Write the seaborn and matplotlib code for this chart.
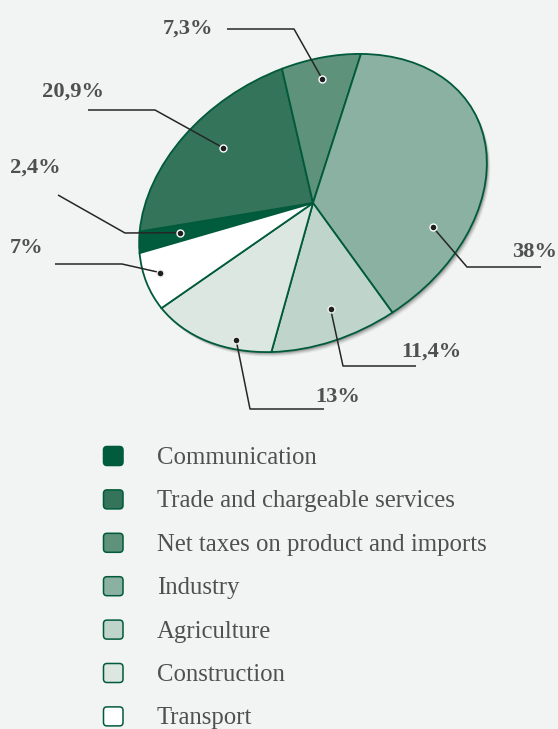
import numpy as np
import matplotlib
matplotlib.use("Agg")
import matplotlib.pyplot as plt
import seaborn as sns
from matplotlib.patches import Circle, FancyBboxPatch
from matplotlib.transforms import Affine2D

sns.set_theme(style="white")
plt.rcParams["font.family"] = ["Liberation Serif", "DejaVu Serif"]

# GDP structure by sector, %
sectors = ["Communication", "Trade and chargeable services", "Net taxes on product and imports",
           "Industry", "Agriculture", "Construction", "Transport"]
shares = [2.4, 20.9, 7.3, 38, 11.4, 13, 7]
pct_labels = ["2,4%", "20,9%", "7,3%", "38%", "11,4%", "13%", "7%"]
colors = ["#005c3c", "#33745a", "#5f927a", "#8ab1a1", "#bfd5cb", "#dde7e2", "#ffffff"]

bg = "#f2f4f3"
edge = "#005a3b"
text_col = "#505050"
W, H = 558, 729

# layout in image pixels (y down)
cx, cy = 313, 203
semi_a, semi_b, tilt = 185, 135, -30
dot_frac = [0.53, 0.546, 0.53, 0.742, 0.479, 0.303, 0.556]
dot_rad = [0.765, 0.741, 0.848, 0.777, 0.775, 0.941, 0.911]
leader_far = [(58, 195), (88, 110), (227, 29), (541, 267), (416, 366), (324, 409), (55, 264)]
leader_elbow = [(125, 233), (155, 110), (294, 29), (467, 267), (343, 366), (250, 409), (122, 264)]
label_pos = [(10, 173), (42, 97), (163, 34), (512, 257), (401, 357), (315, 402), (10, 253)]

fig = plt.figure(figsize=(W / 100, H / 100), dpi=100, facecolor=bg)
ax = fig.add_axes([0, 0, 1, 1])
ax.set_facecolor(bg)

palette = sns.color_palette(colors)
wedges, _ = ax.pie(shares, colors=palette, startangle=-161.3, counterclock=True,
                   wedgeprops=dict(edgecolor=edge, linewidth=1.3))

aff = Affine2D().scale(semi_a, semi_b).rotate_deg(tilt).translate(cx, cy)

# soft shadow on the lower right
for k, a in zip([6, 5, 4, 3, 2], [0.05, 0.08, 0.12, 0.16, 0.22]):
    sh = Affine2D().scale(semi_a, semi_b).rotate_deg(tilt).translate(cx + k * 0.6, cy + k * 0.8)
    c = Circle((0, 0), 1, facecolor="#4a4a4a", edgecolor="none", alpha=a, zorder=1)
    c.set_transform(sh + ax.transData)
    ax.add_patch(c)

for w in wedges:
    w.set_transform(aff + ax.transData)
    w.set_zorder(2)

for i, w in enumerate(wedges):
    t = np.deg2rad(w.theta1 + dot_frac[i] * (w.theta2 - w.theta1))
    dx, dy = aff.transform((dot_rad[i] * np.cos(t), dot_rad[i] * np.sin(t)))
    xs = [leader_far[i][0], leader_elbow[i][0], dx]
    ys = [leader_far[i][1], leader_elbow[i][1], dy]
    ax.plot(xs, ys, color="#262626", lw=1.1, zorder=3, solid_capstyle="butt")
    ring = "white" if i < 4 else "#eeeeee"
    ax.plot(dx, dy, "o", ms=5, mfc="#1e1e1e", mec=ring, mew=1.0, zorder=4)
    ax.text(label_pos[i][0], label_pos[i][1], pct_labels[i], fontsize=16.2, fontweight="bold",
            color=text_col, ha="left", va="baseline")

# legend
row0, step = 456, 43.4
for i, name in enumerate(sectors):
    yc = row0 + i * step
    box = FancyBboxPatch((103.5, yc - 9.5), 19.5, 19, boxstyle="round,pad=0,rounding_size=3.5",
                         facecolor=colors[i], edgecolor=edge, linewidth=1.1, zorder=2)
    ax.add_patch(box)
    ax.text(157, yc + 8, name, fontsize=17.8, color=text_col, ha="left", va="baseline")

ax.set_xlim(0, W)
ax.set_ylim(H, 0)
ax.set_aspect("auto")
ax.axis("off")

fig.savefig("out.png", dpi=100, facecolor=bg)
